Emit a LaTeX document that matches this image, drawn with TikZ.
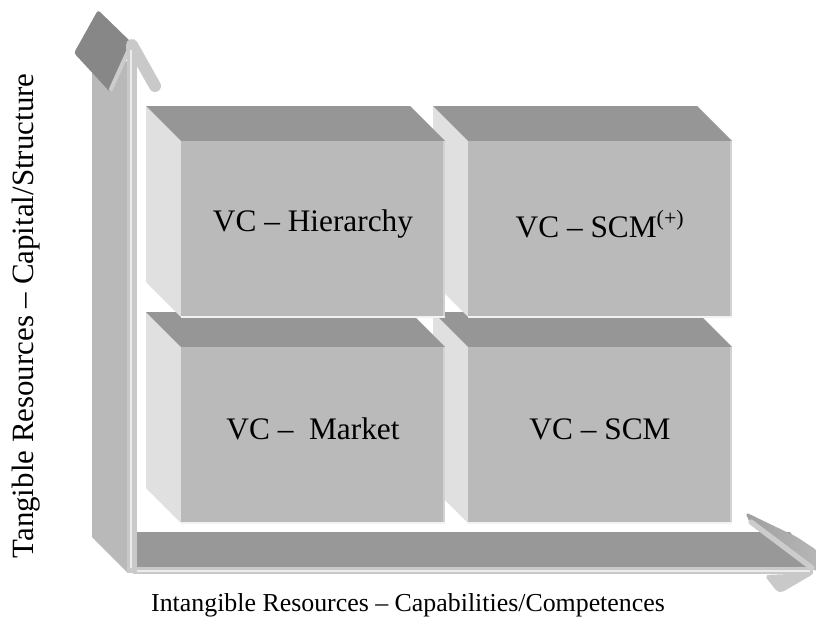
\documentclass[tikz,border=0pt]{standalone}
\usepackage{fontspec}
\setmainfont{Liberation Serif}
\definecolor{boxfront}{gray}{0.73}
\definecolor{boxtop}{gray}{0.59}
\definecolor{boxside}{gray}{0.88}
\definecolor{arrowside}{gray}{0.725}
\definecolor{arrowtop}{gray}{0.595}
\definecolor{arrowfront}{gray}{0.79}
\definecolor{headdark}{gray}{0.53}

\begin{document}
\begin{tikzpicture}[x=0.75pt,y=-0.75pt,
    frontface/.style ={fill=boxfront},
    topface/.style   ={fill=boxtop},
    sideface/.style  ={fill=boxside},
    boxlabel/.style  ={font=\fontsize{23.5}{28}\selectfont, inner sep=0pt},
    axislabel/.style ={inner sep=0pt}]
   \useasboundingbox (0,0) rectangle (816,639);

   % boxes, front face corner (x,y), depth 35 up-left
   \foreach \x/\y in {468/347, 181/347, 468/141, 181/141}{
     \fill[sideface] (\x,\y) -- (\x-35,\y-35) -- (\x-35,\y+141) -- (\x,\y+176) -- cycle;
     \fill[topface]  (\x,\y) -- (\x-35,\y-35) -- (\x+229,\y-35) -- (\x+264,\y) -- cycle;
     \fill[frontface] (\x,\y) rectangle (\x+264,\y+176);
     \draw[gray!35, line width=2] (\x+263,\y) -- (\x+263,\y+176);
     \draw[white!90!gray, line width=1.5] (\x,\y+176) -- (\x+264,\y+176);
   }

   % horizontal arrow
   \fill[arrowtop] (133,567) -- (98,532) -- (790,532) -- (815,567) -- cycle;
   \fill[arrowfront] (133,567) rectangle (813,574);
   \draw[white!85!gray, line width=1.2] (137,571) -- (810,571);
   \fill[arrowfront, rounded corners=4] (764,575) -- (815,573) -- (779,594) -- cycle;
   \shade[left color=gray!75, right color=gray!105!black!60, rounded corners=3]
     (745,512) -- (797,537) -- (818,551) -- (818,572) -- (808,567) -- (751,525) -- cycle;
   \draw[gray!40, line width=4, line cap=round] (751,522) -- (812,568);

   % vertical arrow
   \fill[arrowside] (127,572) -- (92,537) -- (92,27) -- (127,62) -- cycle;
   \fill[headdark, rounded corners=2] (74,53) -- (98,10) -- (132,43) -- (110,92) -- cycle;
   \draw[gray!40, line width=3, line cap=round] (130,47) -- (111,89);
   \fill[arrowfront] (127,50) rectangle (137,573);
   \draw[arrowfront, line width=9, line cap=round, line join=round] (132,48) -- (132,45) -- (155,86);
   \draw[white!85!gray, line width=1.5] (131,568) -- (131,50);

   % labels
   \node[boxlabel] (hier) at (313,224) {VC -- Hierarchy};
   \node[boxlabel] (scmp) at (600,224) {VC -- SCM\textsuperscript{(+)}};
   \node[boxlabel] (mark) at (313,429) {VC --\ \ Market};
   \node[boxlabel] (scm)  at (600,429) {VC -- SCM};
   \node[axislabel, rotate=90, font=\fontsize{23.2}{28}\selectfont] (tang) at (26,316)
     {Tangible Resources -- Capital/Structure};
   \node[axislabel, font=\fontsize{19.4}{24}\selectfont] (intang) at (408,605)
     {Intangible Resources -- Capabilities/Competences};
 \end{tikzpicture}
\end{document}
